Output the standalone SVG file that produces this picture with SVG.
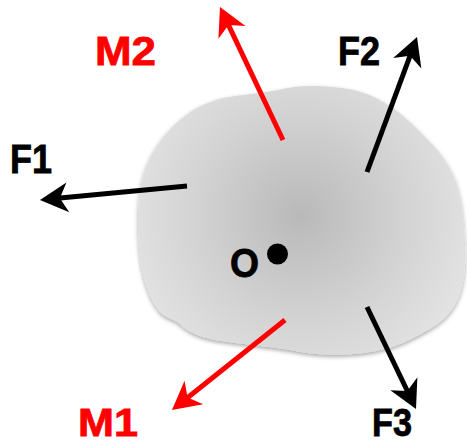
<svg xmlns="http://www.w3.org/2000/svg" width="467" height="445" viewBox="0 0 467 445">
  <style>
    .lbl { font-family: "Liberation Sans", Arial, sans-serif; font-weight: bold; font-size: 40px; stroke-width: 0.8px; }
    .low { font-size: 39px; }
    .red { fill: #ff0000; stroke: #ff0000; }
    .blk { fill: #000000; stroke: #000000; }
    .arrow { fill: none; stroke-width: 5; stroke-linecap: butt; }
    .ar-red { stroke: #ff0000; marker-end: url(#headRed); }
    .ar-blk { stroke: #000000; marker-end: url(#headBlk); }
  </style>
  <defs>
    <radialGradient id="bodyGrad" gradientUnits="userSpaceOnUse" cx="300" cy="215" r="175">
      <stop offset="0" stop-color="#b9b9b9"/>
      <stop offset="0.6" stop-color="#d3d3d3"/>
      <stop offset="1" stop-color="#e2e2e2"/>
    </radialGradient>
    <filter id="shadow" x="-10%" y="-10%" width="120%" height="125%">
      <feDropShadow dx="0" dy="2" stdDeviation="2" flood-color="#000" flood-opacity="0.35"/>
    </filter>
    <marker id="headRed" markerUnits="userSpaceOnUse" orient="auto" refX="0" refY="0" markerWidth="60" markerHeight="60" overflow="visible">
      <path d="M15,0 L-13,-15 L-5,0 L-13,15 Z" fill="#ff0000"/>
    </marker>
    <marker id="headBlk" markerUnits="userSpaceOnUse" orient="auto" refX="0" refY="0" markerWidth="60" markerHeight="60" overflow="visible">
      <path d="M15,0 L-13,-15 L-5,0 L-13,15 Z" fill="#000000"/>
    </marker>
  </defs>

  <g id="body">
    <path filter="url(#shadow)" fill="url(#bodyGrad)" d="M138,222 C138,200 140,180 148,162 C158,140 172,125 190,112 C205,103 218,98 235,96 C250,94 262,93 278,90 C295,86 310,85 333,87 C352,89 368,92 385,103 C400,112 410,122 422,134 C436,148 448,160 456,182 C462,200 464,222 465,245 C466,268 464,288 456,303 C450,314 442,322 428,330 C410,340 396,348 370,352 C345,356 320,356 290,350 C265,346 240,344 215,340 C200,337 190,333 180,324 C172,318 165,318 160,312 C150,300 145,285 141,265 C139,250 138,238 138,222 Z"/>
    <text class="lbl blk" x="230" y="277" textLength="29" lengthAdjust="spacingAndGlyphs">O</text>
    <circle cx="277.5" cy="254" r="10.5" fill="#000000"/>
  </g>

  <g id="connectors">
    <line id="arrow-M2" class="arrow ar-red" x1="283" y1="140" x2="226.4" y2="20.6"/>
    <line id="arrow-F2" class="arrow ar-blk" x1="367" y1="172" x2="411.8" y2="51.1"/>
    <line id="arrow-F1" class="arrow ar-blk" x1="187" y1="186" x2="54.9" y2="198.6"/>
    <line id="arrow-M1" class="arrow ar-red" x1="285" y1="320" x2="183.7" y2="400.7"/>
    <line id="arrow-F3" class="arrow ar-blk" x1="367" y1="307" x2="409.5" y2="395.5"/>
  </g>

  <g id="label-M2"><text class="lbl red" x="95" y="65" textLength="61" lengthAdjust="spacingAndGlyphs">M2</text></g>
  <g id="label-F2"><text class="lbl blk" x="338" y="65" textLength="42" lengthAdjust="spacingAndGlyphs">F2</text></g>
  <g id="label-F1"><text class="lbl blk" x="10" y="173" textLength="42" lengthAdjust="spacingAndGlyphs">F1</text></g>
  <g id="label-M1"><text class="lbl low red" x="78" y="436" textLength="60" lengthAdjust="spacingAndGlyphs">M1</text></g>
  <g id="label-F3"><text class="lbl low blk" x="372" y="436" textLength="40" lengthAdjust="spacingAndGlyphs">F3</text></g>
</svg>
